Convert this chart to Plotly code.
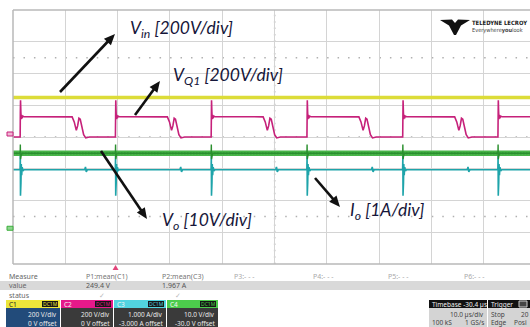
import math
import plotly.graph_objects as go

# ---------------- acquisition settings ----------------
time_per_div = 10.0            # µs/div
trigger_delay = -30.4          # µs (trigger point left of screen centre)
h_divs = 10
v_divs = 8

ch_names = ["C1", "C2", "C3", "C4"]
ch_scale = [200.0, 200.0, 1.0, 10.0]        # units per division
ch_offset = [0.0, 0.0, -3.0, -30.0]         # channel offsets
ch_scale_txt = ["200 V/div", "200 V/div", "1.000 A/div", "10.0 V/div"]
ch_offset_txt = ["0 V offset", "0 V offset", "-3.000 A offset", "-30.0 V offset"]
ch_coupling = ["DC1M", "DC1M", "DC1M", "DC1M"]
trace_colors = ["#dcdc38", "#c6217a", "#1ea4aa", "#3cae3c"]
header_colors = ["#ece63a", "#e6198a", "#52d4e0", "#4ccc4c"]
body_colors = ["#224b7a", "#3a3a3a", "#3a3a3a", "#3a3a3a"]

# measurement table
meas_labels = ["P1:mean(C1)", "P2:mean(C3)", "P3:- - -", "P4:- - -", "P5:- - -", "P6:- - -"]
meas_values = ["249.4 V", "1.967 A", "", "", "", ""]
meas_status = ["\u2713", "\u2713", "", "", "", ""]

# timebase / trigger boxes
timebase_txt = ["Timebase -30.4 \u00b5s", "10.0 \u00b5s/div", "100 kS", "1 GS/s"]
trigger_txt = ["Trigger", "Stop", "20", "Edge", "Posi"]

# ---------------- waveforms ----------------
# switch turn-on instants (µs, relative to trigger)
edge_times = [-18.2, 0.0, 18.3, 36.6, 54.9, 73.1]

# C1: input voltage (V)
vin_level = 249.4

# C2: switch-node voltage over one switching period (µs from turn-on, V)
vq1_rel_t = [-0.03, 0.0, 0.04, 0.10, 0.16, 0.24, 0.34, 0.48, 0.70,
             9.90, 10.30, 10.70, 10.95, 11.20, 11.45, 12.10, 12.50, 13.20]
vq1_val = [0.0, 150.0, 232.0, 160.0, 112.0, 140.0, 118.0, 132.0, 128.0,
           127.0, 95.0, 42.0, 70.0, 118.0, 112.0, 15.0, -6.0, 0.0]

# C3: output current (A)
io_rel_t = [-0.05, 0.0, 0.03, 0.07, 0.12, 0.18, 0.26, 0.36, 0.50, 0.70,
            12.30, 12.45, 12.60, 12.80]
io_val = [1.967, 2.40, 1.15, 2.25, 1.55, 2.15, 1.80, 2.05, 1.93, 1.967,
          1.967, 2.06, 1.90, 1.967]

# C4: output voltage (V) - ripple band level and switching spikes
vo_level = 24.9
vo_rel_t = [-0.03, 0.0, 0.04, 0.09, 0.16, 0.30]
vo_val = [24.9, 27.6, 23.0, 26.4, 24.2, 24.9]

# ---------------- layout geometry (pixels) ----------------
W, H = 530, 327
L, T, B = 13, 10, 264
PW, PH = W - L, B - T
div_px = 52.33                        # horizontal division width
t_left = -trigger_delay - h_divs / 2 * time_per_div
t_right = t_left + PW / div_px * time_per_div
t_center = -trigger_delay


def to_div(v, ch):
    return (v + ch_offset[ch]) / ch_scale[ch]


def periodic(rel_t, vals, base, ch):
    xs, ys = [t_left - 20], [base]
    for e in edge_times:
        for dt, v in zip(rel_t, vals):
            xs.append(e + dt)
            ys.append(v)
    xs.append(t_right + 20)
    ys.append(ys[-1])
    return xs, [to_div(v, ch) for v in ys]


def px(x, y):
    return (x - L) / PW, (B - y) / PH


def t_to_px(t):
    return L + (t - t_left) / time_per_div * div_px


fig = go.Figure()
span = [t_left - 20, t_right + 20]

# C1
fig.add_trace(go.Scatter(x=span, y=[to_div(vin_level, 0)] * 2, mode="lines",
                         line=dict(color=trace_colors[0], width=3.5),
                         hoverinfo="skip"))
# C2
x2, y2 = periodic(vq1_rel_t, vq1_val, 0.0, 1)
fig.add_trace(go.Scatter(x=x2, y=y2, mode="lines",
                         line=dict(color=trace_colors[1], width=1.6),
                         hoverinfo="skip"))
# C3
x3, y3 = periodic(io_rel_t, io_val, io_val[0], 2)
fig.add_trace(go.Scatter(x=x3, y=y3, mode="lines",
                         line=dict(color=trace_colors[2], width=1.6),
                         hoverinfo="skip"))
# C4: wide noisy band, mottled texture, then the thin switching spikes
fig.add_trace(go.Scatter(x=span, y=[to_div(vo_level, 3)] * 2, mode="lines",
                         line=dict(color="#48b448", width=5.5),
                         hoverinfo="skip"))
fig.add_trace(go.Scatter(x=span, y=[to_div(vo_level, 3)] * 2, mode="lines",
                         line=dict(color="#34983a", width=2.5, dash="1px,2px"),
                         hoverinfo="skip"))
x4, y4 = periodic(vo_rel_t, vo_val, vo_level, 3)
fig.add_trace(go.Scatter(x=x4, y=y4, mode="lines",
                         line=dict(color="#2a8f2e", width=1.4),
                         hoverinfo="skip"))

shapes = []
annotations = []

# dotted sub-division ticks
for yv in [0.0, 2.5, -2.5]:
    shapes.append(dict(type="line", xref="x", yref="y", x0=t_left, x1=t_right + 10,
                       y0=yv, y1=yv, layer="below",
                       line=dict(color="#b0b0b0", width=1.5,
                                 dash="1.5px,%.2fpx" % (div_px / 5 - 1.5))))
shapes.append(dict(type="line", xref="x", yref="y", x0=t_center, x1=t_center,
                   y0=-4, y1=4, layer="below",
                   line=dict(color="#b0b0b0", width=1.5,
                             dash="1.5px,%.2fpx" % (PH / v_divs / 5 - 1.5))))

# grid border (left, top, bottom)
for (a, b) in [((L, T), (L, B)), ((L, T), (W + 5, T)), ((L, B), (W + 5, B))]:
    p0, p1 = px(*a), px(*b)
    shapes.append(dict(type="line", xref="paper", yref="paper",
                       x0=p0[0], y0=p0[1], x1=p1[0], y1=p1[1],
                       line=dict(color="#b8b8b8", width=1.5), layer="above"))


def rect(x0, y0, x1, y1, fill, line_color=None):
    a, b = px(x0, y0), px(x1, y1)
    shapes.append(dict(type="rect", xref="paper", yref="paper",
                       x0=a[0], y0=a[1], x1=b[0], y1=b[1], fillcolor=fill,
                       line=dict(width=1 if line_color else 0,
                                 color=line_color or fill),
                       layer="above"))


def poly(points, fill):
    p = [px(*q) for q in points]
    path = "M " + " L ".join("%.5f,%.5f" % q for q in p) + " Z"
    shapes.append(dict(type="path", xref="paper", yref="paper", path=path,
                       fillcolor=fill, line=dict(width=0), layer="above"))


def label(x, y, text, size=7, color="#666666", anchor="left",
          family="Noto Sans"):
    xp, yp = px(x, y)
    annotations.append(dict(x=xp, y=yp, xref="paper", yref="paper",
                            text=text, showarrow=False, xanchor=anchor,
                            yanchor="middle", borderpad=0,
                            font=dict(size=size, color=color, family=family)))


def arrow(tail, head, head_len=11.0, head_half=4.8, width=2.6):
    dx, dy = head[0] - tail[0], head[1] - tail[1]
    n = math.hypot(dx, dy)
    ux, uy = dx / n, dy / n
    bx, by = head[0] - ux * head_len, head[1] - uy * head_len
    p0, p1 = px(*tail), px(bx + ux, by + uy)
    shapes.append(dict(type="line", xref="paper", yref="paper",
                       x0=p0[0], y0=p0[1], x1=p1[0], y1=p1[1],
                       line=dict(color="#111111", width=width), layer="above"))
    poly([head, (bx - uy * head_half, by + ux * head_half),
          (bx + uy * head_half, by - ux * head_half)], "#111111")


# channel ground markers on the left edge
def level_px(ch, v):
    return B - (to_div(v, ch) + v_divs / 2) * PH / v_divs


rect(7, level_px(1, 0) - 5, 13, level_px(1, 0) - 1, "#f2b6d4", "#c6217a")
rect(7, level_px(3, 0) - 6, 13, level_px(3, 0) - 2, "#8fd68f", "#3cae3c")

# trigger position marker
tx = t_to_px(0.0)
poly([(tx - 3, 270), (tx, 265), (tx + 3, 270)], "#e2457a")

# trace annotations
lab_font = "Lato"
lab_col = "#16163a"
label(129, 29, "<i>V<sub>in</sub> [200V/div]</i>", 17.5, lab_col, family=lab_font)
label(172, 76, "<i>V<sub>Q1</sub> [200V/div]</i>", 17.5, lab_col, family=lab_font)
label(161, 221, "<i>V<sub>o</sub> [10V/div]</i>", 17.5, lab_col, family=lab_font)
label(349, 211, "<i>I<sub>o</sub> [1A/div]</i>", 17.5, lab_col, family=lab_font)
arrow((60, 92), (115, 34))
arrow((135, 115), (160, 81))
arrow((101, 151), (147, 219))
arrow((315, 178), (340, 207))

# brand mark
poly([(440, 20), (452, 19.5), (455, 23), (458, 19.5), (470, 20),
      (461, 25.5), (456, 35), (454, 35), (449, 25.5)], "#111111")
label(471, 23, "<b>TELEDYNE LECROY</b>", 5.9, "#222222",
      family="DejaVu Sans Condensed")
label(471, 31, "Everywhere<b>you</b>look", 5.6, "#444444",
      family="DejaVu Sans Condensed")

# ---------------- measurement table ----------------
rect(0, 281, W, 290, "#d9d9d9")
col_x = [85, 161, 233, 312, 387, 463]
label(8, 276, "Measure")
label(8, 285.5, "value")
label(8, 295, "status")
for i, cx in enumerate(col_x):
    label(cx, 276, meas_labels[i], color="#777777" if i < 2 else "#aaaaaa")
    if meas_values[i]:
        label(cx, 285.5, meas_values[i], color="#555555")
    if meas_status[i]:
        label(cx + 13, 295, meas_status[i], color="#bbbbbb")

# channel descriptor boxes
box_x = [(6, 60), (61, 113), (114, 166), (167, 218)]
for i, (x0, x1) in enumerate(box_x):
    rect(x0, 300, x1, 308, header_colors[i])
    rect(x0, 308, x1, H + 2, body_colors[i])
    label(x0 + 2, 304, ch_names[i], 6.5,
          "#222222" if i == 0 else "#f4f4f4")
    rect(x1 - 18, 301, x1 - 2, 307, "#151515")
    label(x1 - 10, 304, ch_coupling[i], 5, header_colors[i], anchor="center")
    label(x1 - 2, 314, ch_scale_txt[i], 6.5, "#e8e8e8", anchor="right")
    label(x1 - 2, 323, ch_offset_txt[i], 6.5, "#e8e8e8", anchor="right")

# timebase box
rect(429, 300, 487, 308, "#121212")
rect(429, 308, 487, H + 2, "#d4d4d4")
label(431, 304, timebase_txt[0], 6.5, "#f0f0f0")
label(485, 314, timebase_txt[1], 6.5, "#444444", anchor="right")
label(431, 322, timebase_txt[2], 6.5, "#444444")
label(485, 322, timebase_txt[3], 6.5, "#444444", anchor="right")

# trigger box
rect(488, 300, W + 2, 308, "#121212")
rect(488, 308, W + 2, H + 2, "#d4d4d4")
label(490, 304, trigger_txt[0], 6.5, "#f0f0f0")
rect(519, 301, 527, 307, "#444444", "#cccccc")
label(490, 314, trigger_txt[1], 6.5, "#444444")
label(520, 314, trigger_txt[2], 6.5, "#444444")
label(490, 322, trigger_txt[3], 6.5, "#444444")
label(513, 322, trigger_txt[4], 6.5, "#444444")

fig.update_layout(
    width=W, height=H,
    margin=dict(l=L, r=0, t=T, b=H - B, pad=0),
    paper_bgcolor="white", plot_bgcolor="white",
    showlegend=False,
    shapes=shapes, annotations=annotations,
    xaxis=dict(range=[t_left, t_right], dtick=time_per_div, tick0=t_left,
               showgrid=True, gridcolor="#d4d4d4", gridwidth=1,
               zeroline=False, showticklabels=False, ticks="",
               showline=False, fixedrange=True),
    yaxis=dict(range=[-v_divs / 2, v_divs / 2], dtick=1, tick0=0,
               showgrid=True, gridcolor="#d4d4d4", gridwidth=1,
               zeroline=False, showticklabels=False, ticks="",
               showline=False, fixedrange=True),
)

fig.write_html("out.html", config={"displayModeBar": False})
